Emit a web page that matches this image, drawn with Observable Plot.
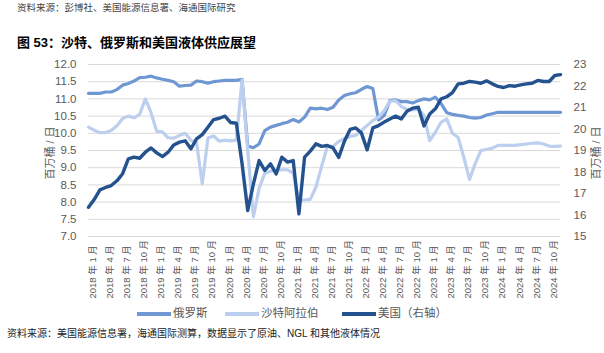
<!DOCTYPE html>
<html><head><meta charset="utf-8">
<script src="https://cdn.jsdelivr.net/npm/d3@7"></script>
<script src="https://cdn.jsdelivr.net/npm/@observablehq/plot@0.6"></script>
<style>
body{margin:0;width:604px;height:353px;position:relative;background:#fff;font-family:"Liberation Sans","Noto Sans CJK SC",sans-serif;overflow:hidden}
.t{position:absolute;white-space:nowrap;line-height:1}
.yt{position:absolute;white-space:nowrap;line-height:1;font-size:11px;color:#595959;transform:translate(-50%,-50%) rotate(-90deg)}
</style></head><body>
<div class="t" style="left:17px;top:3px;font-size:9.5px;color:#444">资料来源：彭博社、美国能源信息署、海通国际研究</div>
<div class="t" style="left:17px;top:36px;font-size:13px;font-weight:bold;color:#000">图 53：沙特、俄罗斯和美国液体供应展望</div>
<div id="chart" style="position:absolute;left:0;top:56px"></div>
<div class="yt" id="ytl" style="left:50px;top:153px"></div>
<div class="yt" id="ytr" style="left:596px;top:153px"></div>
<div id="legend"></div>
<div class="t" style="left:7px;top:329px;font-size:10px;color:#222">资料来源：美国能源信息署，海通国际测算，数据显示了原油、NGL 和其他液体情况</div>
<script>
const months = [
"2018-01","2018-02","2018-03","2018-04","2018-05","2018-06","2018-07","2018-08","2018-09","2018-10","2018-11","2018-12",
"2019-01","2019-02","2019-03","2019-04","2019-05","2019-06","2019-07","2019-08","2019-09","2019-10","2019-11","2019-12",
"2020-01","2020-02","2020-03","2020-04","2020-05","2020-06","2020-07","2020-08","2020-09","2020-10","2020-11","2020-12",
"2021-01","2021-02","2021-03","2021-04","2021-05","2021-06","2021-07","2021-08","2021-09","2021-10","2021-11","2021-12",
"2022-01","2022-02","2022-03","2022-04","2022-05","2022-06","2022-07","2022-08","2022-09","2022-10","2022-11","2022-12",
"2023-01","2023-02","2023-03","2023-04","2023-05","2023-06","2023-07","2023-08","2023-09","2023-10","2023-11","2023-12",
"2024-01","2024-02","2024-03","2024-04","2024-05","2024-06","2024-07","2024-08","2024-09","2024-10","2024-11","2024-12"];
const xTickLabels = [
"2018 年 1 月","2018 年 4 月","2018 年 7 月","2018 年 10 月",
"2019 年 1 月","2019 年 4 月","2019 年 7 月","2019 年 10 月",
"2020 年 1 月","2020 年 4 月","2020 年 7 月","2020 年 10 月",
"2021 年 1 月","2021 年 4 月","2021 年 7 月","2021 年 10 月",
"2022 年 1 月","2022 年 4 月","2022 年 7 月","2022 年 10 月",
"2023 年 1 月","2023 年 4 月","2023 年 7 月","2023 年 10 月",
"2024 年 1 月","2024 年 4 月","2024 年 7 月","2024 年 10 月"];
const xTickMonths = [
"2018-01","2018-04","2018-07","2018-10","2019-01","2019-04","2019-07","2019-10",
"2020-01","2020-04","2020-07","2020-10","2021-01","2021-04","2021-07","2021-10",
"2022-01","2022-04","2022-07","2022-10","2023-01","2023-04","2023-07","2023-10",
"2024-01","2024-04","2024-07","2024-10"];
const leftTicks = [7.0,7.5,8.0,8.5,9.0,9.5,10.0,10.5,11.0,11.5,12.0];
const rightTicks = [15,16,17,18,19,20,21,22,23];
const yTitle = "百万桶 / 日";
const russia = [
11.16,11.16,11.16,11.20,11.20,11.27,11.40,11.45,11.52,11.62,11.63,11.66,
11.61,11.57,11.54,11.50,11.37,11.39,11.40,11.52,11.50,11.46,11.50,11.52,
11.54,11.54,11.54,11.57,9.63,9.58,9.69,10.08,10.18,10.23,10.28,10.32,
10.40,10.33,10.47,10.73,10.71,10.73,10.69,10.76,10.97,11.10,11.15,11.18,
11.28,11.36,11.30,10.39,10.52,10.95,10.97,10.92,10.92,10.88,10.95,11.00,
10.97,11.05,10.86,10.60,10.55,10.52,10.50,10.46,10.44,10.46,10.53,10.57,
10.61,10.61,10.61,10.61,10.61,10.61,10.61,10.61,10.61,10.61,10.61,10.61];
const saudi = [
10.18,10.09,10.02,10.02,10.08,10.22,10.43,10.50,10.45,10.55,11.00,10.60,
10.06,10.04,9.87,9.86,9.94,10.00,9.80,9.73,8.53,9.86,9.92,9.77,
9.80,9.78,9.80,11.55,9.50,7.58,8.40,8.84,8.90,8.92,8.94,8.94,
8.84,8.06,8.06,8.08,8.44,9.04,9.62,9.62,9.76,9.85,9.91,9.94,
10.08,10.23,10.37,10.47,10.66,10.93,10.95,10.78,10.70,10.68,10.70,10.52,
9.79,10.03,10.32,10.42,10.00,9.88,9.30,8.66,9.12,9.50,9.53,9.57,
9.65,9.65,9.65,9.65,9.67,9.69,9.71,9.72,9.69,9.63,9.62,9.63];
const us = [
16.36,16.72,17.17,17.28,17.37,17.59,17.92,18.61,18.69,18.64,18.92,19.12,
18.89,18.72,18.92,19.26,19.39,19.45,19.08,19.54,19.74,20.08,20.44,20.50,
20.60,20.30,20.27,18.40,16.21,17.45,18.53,18.07,18.38,17.91,18.69,18.46,
18.53,16.05,18.69,18.97,19.31,19.19,19.23,19.12,18.68,19.43,19.98,20.05,
19.81,19.03,20.05,20.16,20.32,20.46,20.60,20.47,20.83,20.97,21.01,20.14,
20.70,20.94,21.40,21.50,21.69,22.10,22.13,22.21,22.18,22.13,22.24,22.10,
21.98,21.93,22.02,21.99,22.05,22.10,22.13,22.26,22.21,22.21,22.49,22.53];
const seriesNames = ["俄罗斯","沙特阿拉伯","美国（右轴）"];
const seriesColors = ["#6F98D3","#BCCFEE","#24528E"];
const toLeft = r => 7 + (r - 15) * (12 - 7) / (23 - 15);
const idx = m => months.indexOf(m);
const font = '"Liberation Sans","Noto Sans CJK SC",sans-serif';
const gray = "#595959";
const chart = Plot.plot({
  width: 604, height: 245,
  marginTop: 8, marginBottom: 65, marginLeft: 88, marginRight: 44,
  style: {fontFamily: font, background: "transparent", overflow: "visible"},
  x: {type: "linear", domain: [0, months.length - 1], axis: null},
  y: {domain: [7, 12], axis: null},
  marks: [
    Plot.ruleY(leftTicks, {y: d => d, stroke: "#d9d9d9", strokeWidth: 1}),
    Plot.line(russia, {x: (d, i) => i, y: d => d, stroke: seriesColors[0], strokeWidth: 3.2, strokeLinejoin: "round"}),
    Plot.line(saudi, {x: (d, i) => i, y: d => d, stroke: seriesColors[1], strokeWidth: 3.2, strokeLinejoin: "round"}),
    Plot.line(us, {x: (d, i) => i, y: d => toLeft(d), stroke: seriesColors[2], strokeWidth: 3.4, strokeLinejoin: "round"}),
    Plot.text(leftTicks, {y: d => d, frameAnchor: "left", dx: -12, textAnchor: "end", lineAnchor: "middle", text: d => d.toFixed(1), fontSize: 11.5, fill: gray}),
    Plot.text(rightTicks, {y: d => toLeft(d), frameAnchor: "right", dx: 13, textAnchor: "start", lineAnchor: "middle", text: d => String(d), fontSize: 11.5, fill: gray}),
    Plot.text(xTickLabels, {x: (d, i) => idx(xTickMonths[i]), frameAnchor: "bottom", dx: 4.5, dy: 62, rotate: -90, textAnchor: "start", lineAnchor: "middle", text: d => d, fontSize: 9.5, fill: gray})
  ]
});
document.getElementById("chart").appendChild(chart);
document.getElementById("ytl").textContent = yTitle;
document.getElementById("ytr").textContent = yTitle;
const legend = document.getElementById("legend");
const legendX = [137, 225, 342];
seriesNames.forEach((name, k) => {
  const sw = document.createElement("div");
  sw.style.cssText = `position:absolute;left:${legendX[k]}px;top:312px;width:34px;height:4px;background:${seriesColors[k]}`;
  legend.appendChild(sw);
  const tx = document.createElement("div");
  tx.className = "t";
  tx.style.cssText = `left:${legendX[k] + 36}px;top:308px;font-size:11.5px;color:${gray}`;
  tx.textContent = name;
  legend.appendChild(tx);
});
</script>
</body></html>
